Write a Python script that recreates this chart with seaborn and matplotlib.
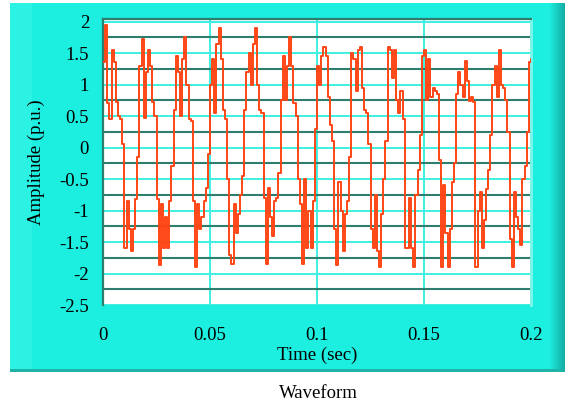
import numpy as np
import pandas as pd
import matplotlib
matplotlib.use("Agg")
import matplotlib.pyplot as plt
import seaborn as sns
from matplotlib.patches import Rectangle
from matplotlib.ticker import FixedLocator

# ---------------- data (1 ms samples) ----------------
dt = 0.001
amplitude = [
    1.35, 1.95, 0.70, 0.45, 1.55, 1.35, 0.72, 0.50, 0.45, 0.05,
    -1.60, -0.85, -1.30, -1.65, -1.30, -0.82, -0.15, 1.30, 1.72, 0.47,
    1.20, 1.55, 1.30, 0.72, 0.50, -0.82, -1.87, -0.90, -1.60, -1.10,
    -1.60, -0.85, -0.30, 0.60, 1.45, 1.20, 0.50, 1.40, 1.75, 1.00,
    0.45, 0.42, -0.85, -1.90, -0.90, -1.30, -1.10, -0.85, -0.65, -0.10,
    1.00, 1.40, 0.55, 1.65, 1.90, 1.40, 0.60, 0.45, -0.50, -1.70,
    -1.85, -0.90, -1.35, -1.05, -0.75, -0.45, 0.60, 1.20, 1.50, 1.00,
    1.65, 1.90, 1.00, 0.60, 0.55, -0.80, -1.85, -0.65, -1.10, -1.40,
    -0.85, -0.80, -0.40, 0.75, 1.45, 0.75, 1.30, 1.75, 1.30, 0.70,
    0.50, -0.50, -0.90, -1.85, -0.50, -1.60, -1.00, -1.60, -0.85, 0.30,
    1.30, 1.00, 1.45, 1.60, 1.45, 0.80, 0.35, 0.10, -1.30, -1.87,
    -0.55, -1.00, -1.65, -1.05, -0.85, -0.15, 1.50, 1.40, 0.90, 1.55,
    1.60, 0.95, 0.60, 0.55, 0.05, -1.30, -1.60, -0.75, -1.65, -1.90,
    -1.05, -0.50, 0.10, 1.60, 1.55, 1.10, 1.55, 0.75, 0.55, 0.90,
    0.45, -1.60, -1.60, -0.80, -1.60, -1.90, -0.75, -0.35, 0.20, 1.45,
    1.55, 0.75, 1.40, 0.80, 0.95, 0.90, 0.85, -0.20, -1.90, -0.60,
    -1.35, -1.90, -1.30, -0.55, -0.25, 0.85, 1.20, 1.00, 0.80, 1.38,
    1.05, 0.74, 0.80, 0.72, -1.90, -1.00, -0.70, -1.60, -1.15, -0.66,
    -0.35, 0.20, 1.00, 1.30, 0.80, 1.55, 1.00, 0.95, 0.75, 0.25,
    -1.45, -1.90, -0.70, -1.10, -1.30, -1.55, -0.50, -0.30, 0.25, 1.35,
    1.40,
]
time = [round(i * dt, 3) for i in range(len(amplitude))]

xticks = [0, 0.05, 0.1, 0.15, 0.2]
xticklabels = ["0", "0.05", "0.1", "0.15", "0.2"]
yticks = [2, 1.5, 1, 0.5, 0, -0.5, -1, -1.5, -2, -2.5]
yticklabels = ["2", "1.5", "1", "0.5", "0", "-0.5", "-1", "-1.5", "-2", "-2.5"]
yminor = [1.75, 1.25, 0.75, 0.25, -0.25, -0.75, -1.25, -1.75, -2.25]

x_label = "Time (sec)"
y_label = "Amplitude (p.u.)"
caption = "Waveform"

# ---------------- style ----------------
PANEL = "#1CEEDF"
PANEL_LIGHT = "#2CF2E4"
CYAN_GRID = "#3DEFE0"
DARK_GRID = "#2E7E70"
RED = "#FF4515"

sns.set_theme(style="white")
plt.rcParams["font.family"] = ["Liberation Serif", "DejaVu Serif"]

df = pd.DataFrame({"time": time, "amplitude": amplitude})

W, H = 571, 404
fig = plt.figure(figsize=(W / 100, H / 100), dpi=100)
fig.patch.set_facecolor("white")

# background panel (pixel coordinates)
bg = fig.add_axes([0, 0, 1, 1], zorder=-5)
bg.set_xlim(0, W)
bg.set_ylim(H, 0)
bg.axis("off")
bg.add_patch(Rectangle((10, 3), 555, 369, color=PANEL, lw=0))
bg.add_patch(Rectangle((10, 3), 22, 369, color=PANEL_LIGHT, lw=0))
# darker bevel on the right edge
for i in range(16):
    frac = i / 15
    c = (0.11 - 0.03 * frac, 0.93 - 0.25 * frac, 0.87 - 0.22 * frac)
    bg.add_patch(Rectangle((549 + i, 3), 1.05, 369, color=c, lw=0))
bg.add_patch(Rectangle((10, 369), 555, 3, color="#1FB3A8", lw=0))
bg.text(318, 393, caption, ha="center", va="center", fontsize=13.5, color="black")

# plot area
ax = fig.add_axes([103 / W, 1 - 305 / H, 428 / W, 286 / H])
ax.set_facecolor("white")

sns.lineplot(data=df, x="time", y="amplitude", ax=ax, color=RED, linewidth=1.4,
             drawstyle="steps-post", estimator=None, sort=False, zorder=5)

ax.set_xlim(0, 0.2)
ax.set_ylim(-2.5, 2.04)
ax.set_xticks(xticks)
ax.set_xticklabels(xticklabels)
ax.set_yticks(yticks)
ax.set_yticklabels(yticklabels)
ax.yaxis.set_minor_locator(FixedLocator(yminor))

ax.grid(which="major", axis="y", color=CYAN_GRID, lw=1.4, zorder=1)
ax.grid(which="minor", axis="y", color=DARK_GRID, lw=1.5, zorder=1)
ax.grid(which="major", axis="x", color=CYAN_GRID, lw=1.4, zorder=1)
ax.set_axisbelow(True)

ax.tick_params(axis="both", which="major", direction="out", length=6, width=1.5,
               color="black", labelsize=13.5, labelcolor="black")
ax.tick_params(axis="x", pad=5)
ax.tick_params(axis="y", pad=4)
ax.tick_params(which="minor", length=0)

for s in ["left", "top"]:
    ax.spines[s].set_color(DARK_GRID)
    ax.spines[s].set_linewidth(1.6)
ax.spines["right"].set_color("#7FF5EC")
ax.spines["right"].set_linewidth(2.0)
ax.spines["bottom"].set_position(("outward", 5))
ax.spines["bottom"].set_visible(False)

ax.set_xlabel(x_label, fontsize=13.5, labelpad=2, color="black")
ax.set_ylabel(y_label, fontsize=13.5, labelpad=10, color="black")

fig.savefig("out.png", dpi=100, facecolor="white")
